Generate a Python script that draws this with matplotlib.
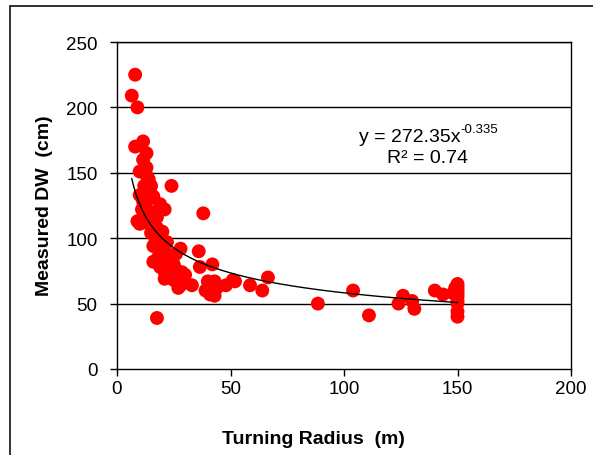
import matplotlib
matplotlib.use("Agg")
import matplotlib.pyplot as plt
import numpy as np
from matplotlib.patches import Rectangle

plt.rcParams['font.family'] = ['Liberation Sans', 'DejaVu Sans']

# Data
turning_radius = [8, 6.5, 9, 11.5, 8, 13, 11.5, 13, 24, 10, 13, 14.5, 16, 11.5, 19, 21, 11,
                  38, 11.5, 17.6, 11.5, 16, 10, 17.6, 16, 28, 36, 21, 23, 16, 25, 36.5,
                  21, 28.6, 21, 28, 33, 40, 39, 17.6, 42, 43, 51, 48, 58.6, 66.5, 43, 64,
                  88.5, 52, 104, 111, 124, 126, 130, 131, 140, 143.6,
                  150, 150, 150, 150, 150, 150, 150, 150, 150, 150, 149, 148,
                  12, 14, 15, 18, 19, 20, 22, 24, 26, 18, 19, 23, 25, 27, 30, 13, 14,
                  15, 17, 20, 22, 12, 10, 14, 15, 9, 26, 44, 41]
measured_dw = [225, 209, 200, 174, 170, 165, 160, 154, 140, 151, 148, 136, 132, 128, 126, 122, 122,
               119, 116, 116, 112, 109, 111, 108, 94, 92, 90, 92, 86, 82, 80, 78,
               74, 74, 69, 64, 64, 67, 60, 39, 80, 67, 68, 64, 64, 70, 56, 60,
               50, 67, 60, 41, 50, 56, 52, 46, 60, 57,
               65, 63, 61, 59, 57, 55, 52, 50, 44, 40, 62, 58,
               140, 130, 120, 100, 95, 90, 85, 80, 76, 85, 78, 72, 68, 62, 72, 118, 112,
               104, 98, 105, 97, 128, 133, 145, 140, 113, 88, 62, 57]

fit_a = 272.35
fit_b = -0.335

x_ticks = [0, 50, 100, 150, 200]
y_ticks = [0, 50, 100, 150, 200, 250]

fig = plt.figure(figsize=(5.93, 4.56), dpi=100)
fig.patch.set_facecolor('white')

# outer chart-area border (partially cropped)
fig.patches.append(Rectangle((10/593, -0.2), 1.2, 1 - 7/456 + 0.2, transform=fig.transFigure,
                             fill=False, edgecolor='#222222', linewidth=1.3, zorder=0))

ax = fig.add_axes([117/593, 86/456, 454/593, 327/456])
ax.set_xlim(0, 200)
ax.set_ylim(0, 250)
ax.set_xticks(x_ticks)
ax.set_yticks(y_ticks)

for yv in y_ticks[1:]:
    ax.axhline(yv, color='black', linewidth=1.0, zorder=1)

ax.scatter(turning_radius, measured_dw, s=100, color='#FF0000', edgecolors='none', zorder=3)

xf = np.linspace(min(turning_radius), max(turning_radius), 300)
ax.plot(xf, fit_a * xf ** fit_b, color='black', linewidth=1.0, zorder=4)

for side in ['left', 'bottom', 'right', 'top']:
    ax.spines[side].set_color('black')
    ax.spines[side].set_linewidth(1.0)

ax.tick_params(axis='both', direction='out', length=5, width=1.0, color='black',
               labelsize=13.5, pad=3)
ax.tick_params(axis='y', pad=9)

t1 = ax.text(129, 178, 'y = 272.35x', ha='center', va='center', fontsize=14, zorder=5)
ax.annotate('-0.335', xy=(1.0, 0.95), xycoords=t1, ha='left', va='center',
            fontsize=9.5, zorder=5)
ax.text(137, 162, 'R² = 0.74', ha='center', va='center', fontsize=14, zorder=5)

fig.text(313/593, 1 - 440/456, 'Turning Radius  (m)', ha='center', va='center',
         fontsize=14, fontweight='bold')
fig.text(45/593, 1 - 206/456, 'Measured DW  (cm)', ha='center', va='center',
         fontsize=14, fontweight='bold', rotation=90)

fig.savefig('out.png', dpi=100)
